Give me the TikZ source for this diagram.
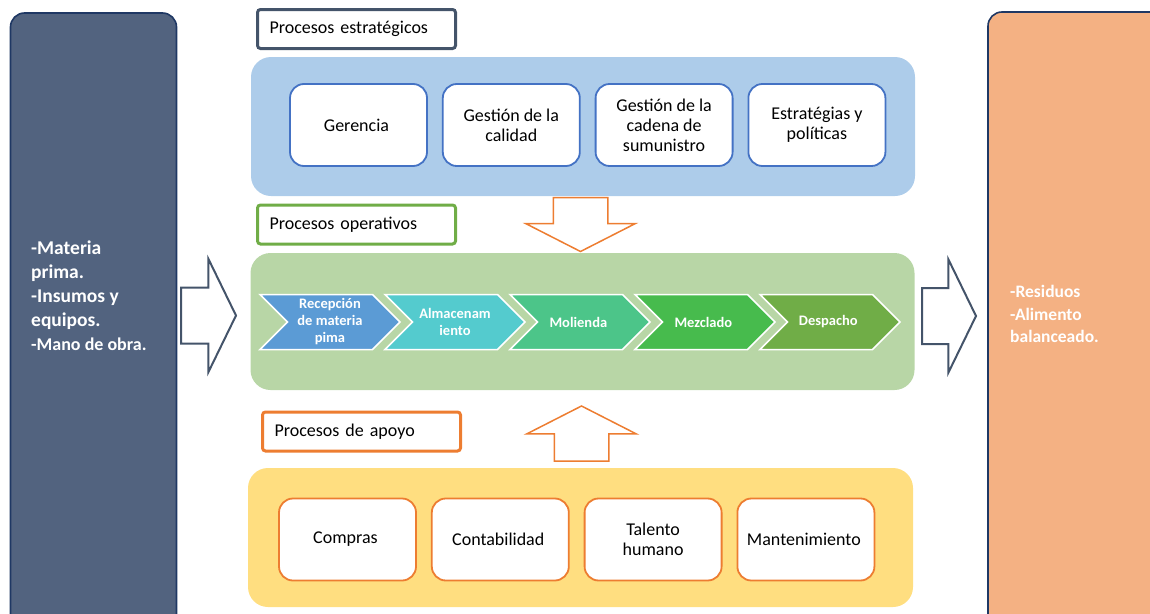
\documentclass[tikz,border=0pt]{standalone}
\usepackage{fontspec}
\setmainfont{Carlito}
\usetikzlibrary{positioning,shapes,shapes.symbols,shapes.arrows}

\definecolor{pizarra}{RGB}{82,99,127}
\definecolor{marino}{RGB}{31,56,100}
\definecolor{gris}{RGB}{68,84,106}
\definecolor{salmon}{RGB}{244,177,131}
\definecolor{celeste}{RGB}{173,204,234}
\definecolor{verdeclaro}{RGB}{184,214,166}
\definecolor{amarillo}{RGB}{255,222,128}
\definecolor{azul}{RGB}{68,114,196}
\definecolor{naranja}{RGB}{237,125,49}
\definecolor{verde}{RGB}{112,173,71}
\definecolor{chev1}{RGB}{91,155,213}
\definecolor{chev2}{RGB}{84,203,206}
\definecolor{chev3}{RGB}{76,197,137}
\definecolor{chev4}{RGB}{71,187,77}
\definecolor{chev5}{RGB}{112,173,71}

\tikzset{
    lateral/.style={
        rectangle,
        rounded corners=14pt,
        draw=marino,
        line width=1.6pt,
        minimum width=166pt,
        minimum height=628pt,
    },
    panel/.style={
        rectangle,
        rounded corners=20pt,
        minimum width=664pt,
        minimum height=139pt,
    },
    caja/.style={
        rectangle,
        rounded corners=14pt,
        draw,
        fill=white,
        line width=1.8pt,
        align=center,
        minimum width=137pt,
        minimum height=82pt,
        font=\fontsize{18}{20}\selectfont,
    },
    titulo/.style={
        rectangle,
        rounded corners=3pt,
        draw,
        fill=white,
        line width=3pt,
        text width=174pt,
        inner xsep=12pt,
        align=left,
        minimum height=39pt,
        font=\fontsize{18}{20}\selectfont,
    },
    etapa/.style={
        signal,
        signal from=west,
        signal to=east,
        signal pointer angle=90,
        draw=white,
        line width=1.5pt,
        text=white,
        align=center,
        minimum width=140pt,
        minimum height=55pt,
        inner sep=0pt,
        outer sep=0pt,
        font=\bfseries\fontsize{14.5}{17}\selectfont,
    },
    bloque/.style={
        single arrow,
        draw=gris,
        fill=white,
        line width=2pt,
        inner xsep=0pt,
        inner ysep=27pt,
        outer sep=0pt,
        anchor=tip,
        minimum height=55pt,
        minimum width=112pt,
        single arrow head extend=28.5pt,
        single arrow tip angle=128,
    },
    flujo/.style={
        bloque,
        draw=naranja,
        line width=1.5pt,
        inner ysep=26.5pt,
        minimum width=108pt,
        single arrow head extend=27.5pt,
        single arrow tip angle=126,
    },
    lista/.style={
        text=white,
        align=left,
        anchor=north west,
        inner sep=0pt,
    },
}

\begin{document}
\begin{tikzpicture}[x=1pt,y=-1pt]
    \useasboundingbox (0,0) rectangle (1150,613);
    \node[lateral,fill=pizarra](entradas) at (93.5,327) {};
    \node[lateral,fill=salmon,minimum width=177pt](salidas) at (1076.5,326) {};
    \node[lista,font=\bfseries\fontsize{19.5}{24}\selectfont](tentradas) at (31,241) {-Materia\\prima.\\-Insumos y\\equipos.\\{\fontsize{18}{24}\selectfont -Mano de obra.}};
    \node[lista,font=\bfseries\fontsize{17.5}{22.5}\selectfont](tsalidas) at (1010,285.5) {-Residuos\\-Alimento\\balanceado.};
    \node[bloque](inflecha) at (236,315.5) {};
    \node[bloque,minimum height=54pt](outflecha) at (976,316) {};

    \node[panel,fill=celeste](estrat) at (583,126.5) {};
    \node[titulo,draw=gris](lestrat) at (356.5,29) { Procesos estratégicos };
    \node[caja,draw=azul](e1) at (358.5,125) { Gerencia };
    \node[caja,draw=azul,right=14pt of e1](e2) { Gestión de la\\calidad };
    \node[caja,draw=azul,right=14pt of e2](e3) { Gestión de la\\cadena de\\sumunistro };
    \node[caja,draw=azul,right=14pt of e3](e4) { Estratégias y\\políticas };
    \node[flujo,rotate=-90,minimum height=54pt](bajar) at (580.5,251.5) {};

    \node[panel,fill=verdeclaro,minimum height=137pt](operat) at (582.5,321.5) {};
    \node[titulo,draw=verde](lopera) at (356.5,224.5) { Procesos operativos };
    \node[etapa,fill=chev1](p1) at (330,322) { Recepción\\de materia\\pima };
    \node[etapa,fill=chev2](p2) at (455,322) { Almacenam\\iento };
    \node[etapa,fill=chev3](p3) at (580,322) { Molienda };
    \node[etapa,fill=chev4](p4) at (705,322) { Mezclado };
    \node[etapa,fill=chev5](p5) at (830,322) { Despacho };

    \node[panel,fill=amarillo,minimum width=665pt](apoyo) at (580.5,537.5) {};
    \node[titulo,draw=naranja](lapoyo) at (361.5,431.5) { Procesos de apoyo };
    \node[flujo,rotate=90](subir) at (581.5,406) {};
    \node[caja,draw=naranja](a1) at (347.5,539.5) { Compras };
    \node[caja,draw=naranja,right=14pt of a1](a2) { Contabilidad };
    \node[caja,draw=naranja,right=14pt of a2](a3) { Talento\\humano };
    \node[caja,draw=naranja,right=14pt of a3](a4) { Mantenimiento };
\end{tikzpicture}
\end{document}
